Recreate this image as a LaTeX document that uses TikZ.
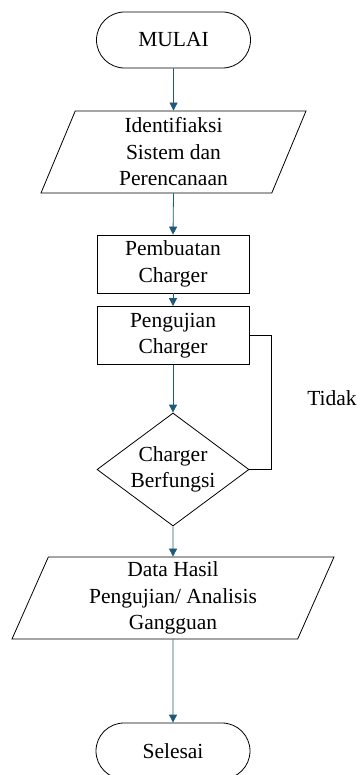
\documentclass[tikz,border=0pt]{standalone}
\usepackage{fontspec}
\setmainfont{Liberation Serif}
\usetikzlibrary{shapes,arrows.meta}
\usetikzlibrary{positioning}

\definecolor{flowblue}{RGB}{31,90,122}

\tikzset{
    box/.style={draw, line width=0.8pt, align=center, inner sep=0pt,
        font=\fontsize{21.5}{26.5}\selectfont},
    terminal/.style={box, rounded rectangle, minimum width=154pt, minimum height=56pt},
    process/.style={box, rectangle, minimum width=152pt, minimum height=58pt},
    decision/.style={box, diamond, shape aspect=1.345, inner sep=-3pt,
        minimum width=152pt, minimum height=113pt},
    io/.style={box, trapezium, trapezium left angle=63.4, trapezium right angle=116.6,
        trapezium stretches body, minimum height=82pt},
    flow/.style={line width=0.8pt, flowblue, -{Triangle[width=8pt,length=8pt]}},
}

\begin{document}
\begin{tikzpicture}[x=1pt, y=-1pt]

    % Frame
    \useasboundingbox (0,0) rectangle (363,775);

    % Blocks
    \node[terminal] (mulai) at (173.5, 40) {MULAI};
    \node[io, minimum width=265pt] (identifikasi) at (173.5, 152) {Identifiaksi\\Sistem dan\\Perencanaan};
    \node[process] (pembuatan) at (173, 264) {Pembuatan\\Charger};
    \node[process] (pengujian) at (173, 335.5) {Pengujian\\Charger};
    \node[decision] (fungsi) at (173, 469.5) {Charger\\Berfungsi};
    \node[io, minimum width=322pt] (hasil) at (173, 598) {Data Hasil\\Pengujian/ Analisis\\Gangguan};
    \node[terminal] (selesai) at (173, 751) {Selesai};

    % Label
    \node[font=\fontsize{21.5}{26.5}\selectfont] (tidak) at (332, 398) {Tidak};

    % Arrows
    \draw[flow] (mulai.south) -- (identifikasi.north);
    \draw[flow] (identifikasi.south) -- (pembuatan.north);
    \draw[flow] (pembuatan.south) -- (pengujian.north);
    \draw[flow] (pengujian.south) -- (fungsi.north);
    \draw[flow] (fungsi.south) -- (hasil.north);
    \draw[flow] (hasil.south) -- (selesai.north);

    % Loop back
    \coordinate (balik) at (271, 335.5);
    \draw[line width=0.8pt] (fungsi.east) -| (balik) -- (pengujian.east);

\end{tikzpicture}
\end{document}
